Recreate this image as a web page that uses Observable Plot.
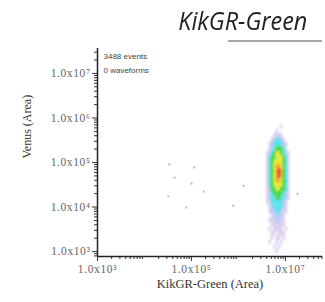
<!DOCTYPE html>
<html><head><meta charset="utf-8">
<script src="https://cdn.jsdelivr.net/npm/d3@7"></script>
<script src="https://cdn.jsdelivr.net/npm/@observablehq/plot@0.6"></script>
<style>
body{margin:0;background:#fff;}
#wrap{position:relative;width:325px;height:302px;overflow:hidden;}
#wrap svg{position:absolute;left:0;top:0;}
#title{position:absolute;right:18px;top:2px;font:italic 26px "Open Sans";color:#222;white-space:nowrap;transform:scaleX(0.9);transform-origin:right center;}
#rule{position:absolute;left:228px;top:40px;width:94px;height:2px;background:#aaa;}
</style></head><body>
<div id="wrap"><div id="title">KikGR-Green</div><div id="rule"></div></div>
<script>
const chartTitle = "KikGR-Green";
const xLabel = "KikGR-Green (Area)";
const yLabel = "Venus (Area)";
const eventCount = 3488;
const waveformCount = 0;
const xTicks = [1e3, 1e5, 1e7];
const xTickLabels = ["1.0x10³", "1.0x10⁵", "1.0x10⁷"];
const yTicks = [1e3, 1e4, 1e5, 1e6, 1e7];
const yTickLabels = ["1.0x10³", "1.0x10⁴", "1.0x10⁵", "1.0x10⁶", "1.0x10⁷"];

// density grid of the main population (log10 bin centres) and density level per bin
const densityColLogX = [6.575, 6.625, 6.675, 6.725, 6.775, 6.825, 6.875, 6.925, 6.975, 7.025, 7.075, 7.125];
const densityRowLogY = [5.9, 5.8, 5.7, 5.6, 5.5, 5.4, 5.3, 5.2, 5.1, 5.0, 4.9, 4.8, 4.7, 4.6, 4.5, 4.4, 4.3, 4.2, 4.1, 4.0, 3.9, 3.8, 3.7, 3.6, 3.5, 3.4, 3.3, 3.2, 3.1, 3.0];
const densityRows = [
  "000000000000",
  "000000010000",
  "000001000000",
  "000011110000",
  "000123321000",
  "001233332100",
  "001234443100",
  "012345543210",
  "013445554310",
  "013455554310",
  "013456654310",
  "013456764310",
  "013456764310",
  "013456654310",
  "013455554310",
  "012445544310",
  "012344443210",
  "012334433210",
  "011333332100",
  "001233332100",
  "001223321100",
  "000122221000",
  "001112211000",
  "000111111000",
  "001011110100",
  "000110111000",
  "000101101000",
  "001001010000",
  "000010100000",
  "000001000000"
];
const densityLevels = [1, 2, 3, 4, 5, 6, 7];
const densityColors = ["#c9b6e4", "#8fb4f0", "#4fe0e8", "#3ad43a", "#e6e62a", "#f5a020", "#e02a10"];

// scattered events (log10 values)
const outlierLogX = [4.53, 5.06, 4.64, 5.00, 5.26, 4.51, 4.89, 6.11, 7.26, 5.89];
const outlierLogY = [4.96, 4.89, 4.66, 4.53, 4.35, 4.24, 3.99, 4.48, 4.30, 4.03];

const xDomain = [1e3, Math.pow(10, 7.79)];
const yDomain = [Math.pow(10, 2.89), Math.pow(10, 7.56)];

const cells = [];
densityRows.forEach((row, r) => {
  [...row].forEach((ch, c) => {
    const level = +ch;
    if (level > 0) {
      const lx = densityColLogX[c], ly = densityRowLogY[r];
      cells.push({x1: 10 ** (lx - 0.025), x2: 10 ** (lx + 0.025), y1: 10 ** (ly - 0.05), y2: 10 ** (ly + 0.05), level});
    }
  });
});
const outliers = outlierLogX.map((lx, i) => ({x: 10 ** lx, y: 10 ** outlierLogY[i]}));

const minor = (lo, hi) => {
  const out = [];
  for (let e = lo; e <= hi; e++) for (let m = 2; m <= 9; m++) out.push(m * 10 ** e);
  return out;
};
const minorX = minor(2, 7).filter(v => v > xDomain[0] && v < xDomain[1]);
const minorY = minor(2, 7).filter(v => v > yDomain[0] && v < yDomain[1]);

const serif = "Liberation Serif";
const chart = Plot.plot({
  width: 325, height: 302,
  marginLeft: 97, marginRight: 3, marginTop: 48, marginBottom: 46,
  x: {type: "log", domain: xDomain},
  y: {type: "log", domain: yDomain},
  color: {type: "ordinal", domain: densityLevels, range: densityColors},
  style: {fontFamily: serif, background: "transparent"},
  marks: [
    Plot.rect(cells, {x1: "x1", x2: "x2", y1: "y1", y2: "y2", fill: "level", fillOpacity: d => d.level <= 2 ? 0.7 : 1}),
    Plot.dot(outliers, {x: "x", y: "y", r: 1.2, fill: "#a898b8", fillOpacity: 0.6}),
    Plot.axisY({ticks: minorY, tickSize: 3, tickFormat: () => "", stroke: "#333"}),
    Plot.axisX({ticks: minorX, tickSize: 3, tickFormat: () => "", stroke: "#333"}),
    Plot.axisY({ticks: yTicks, tickSize: 5, tickPadding: 2, tickFormat: d => yTickLabels[yTicks.indexOf(d)], label: null, fontSize: 11.5, fill: "#666", stroke: "#333"}),
    Plot.axisX({ticks: xTicks, tickSize: 5, tickPadding: 3, tickFormat: d => xTickLabels[xTicks.indexOf(d)], label: null, fontSize: 11.5, fill: "#666", stroke: "#333"}),
    Plot.ruleX([xDomain[0]], {stroke: "#222", strokeWidth: 1.5}),
    Plot.ruleY([yDomain[0]], {stroke: "#222", strokeWidth: 1.5}),
    Plot.text([xLabel], {frameAnchor: "bottom", dy: 31, fontSize: 12.5, fill: "#333"}),
    Plot.text([yLabel], {frameAnchor: "left", dx: -70, dy: 6, rotate: -90, fontSize: 12, fill: "#333"}),
    Plot.text([`${eventCount} events\n${waveformCount} waveforms`], {frameAnchor: "top-left", dx: 6, dy: 1, lineAnchor: "top", lineHeight: 1.75, fontSize: 8, fontFamily: "Liberation Sans", fill: "#444", textAnchor: "start"})
  ]
});
document.getElementById("title").textContent = chartTitle;
document.getElementById("wrap").prepend(chart);
const rg = chart.querySelector('g[aria-label="rect"]');
if (rg) rg.style.filter = "blur(1px)";
chart.querySelectorAll('g[aria-label="y-axis tick label"] text, g[aria-label="x-axis tick label"] text').forEach(t => t.style.letterSpacing = "0.6px");
</script>
</body></html>
